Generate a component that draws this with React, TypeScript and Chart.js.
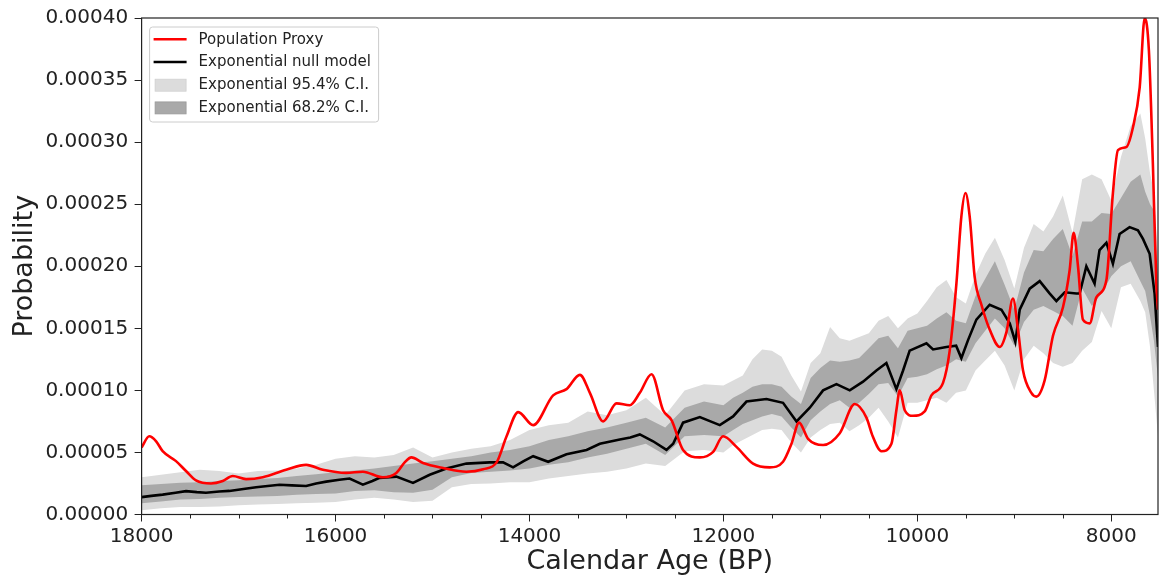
import React, { useEffect, useRef } from 'react';
import { Chart, registerables } from 'chart.js';

Chart.register(...registerables);

// ---- axis settings ----
const X_LEFT = 18000; // oldest (left edge, axis reversed)
const X_RIGHT = 7518; // youngest (right edge)
const xMajorTicks = [8000, 10000, 12000, 14000, 16000, 18000];
const X_MINOR = 500;
const Y_MAX = 0.0004;
const Y_STEP = 0.00005;
const UNIT = 1e-5; // values below are in units of 1e-5 probability

// ---- Population proxy (red) ----
const proxyYears = [
  18000, 17921, 17850, 17783, 17645, 17542, 17439, 17284, 17163, 17060, 16923, 16750,
  16510, 16303, 16131, 15890, 15718, 15511, 15373, 15287, 15218, 15098, 14891, 14651,
  14478, 14339, 14236, 14116, 13962, 13756, 13618, 13480, 13377, 13240, 13102, 12965,
  12862, 12741, 12622, 12535, 12416, 12243, 12106, 12003, 11865, 11694, 11522, 11385,
  11298, 11220, 11127, 10972, 10800, 10645, 10525, 10460, 10370, 10267, 10216, 10181,
  10130, 10045, 9924, 9855, 9735, 9666, 9597, 9546, 9504, 9460, 9408, 9339,
  9254, 9150, 9081, 9014, 8962, 8910, 8824, 8772, 8687, 8601, 8498, 8429,
  8388, 8343, 8292, 8222, 8154, 8050, 7983, 7931, 7845, 7776, 7707, 7655,
  7612, 7571, 7535, 7518,
];
const proxyValues = [
  5.4, 6.3, 5.9, 5.1, 4.3, 3.5, 2.75, 2.5, 2.7, 3.1, 2.85, 3.0,
  3.6, 4.0, 3.6, 3.35, 3.45, 3.0, 3.35, 4.2, 4.6, 4.15, 3.75, 3.45,
  3.65, 4.2, 6.3, 8.25, 7.2, 9.6, 10.1, 11.25, 9.8, 7.5, 8.95, 8.8,
  9.8, 11.3, 8.4, 7.6, 5.2, 4.6, 5.05, 6.3, 5.45, 4.1, 3.8, 4.25,
  5.7, 7.4, 6.1, 5.6, 6.55, 8.9, 7.8, 6.3, 5.1, 5.7, 8.4, 10.0,
  8.4, 7.95, 8.3, 9.6, 10.6, 13.2, 18.6, 24.0, 25.9, 24.0, 19.1, 16.9,
  14.9, 13.5, 14.7, 17.4, 14.9, 11.6, 9.8, 9.5, 10.8, 14.4, 16.7, 19.7,
  22.7, 20.0, 15.7, 15.4, 17.5, 18.9, 25.9, 29.35, 29.6, 31.2, 34.4, 40.0,
  37.4, 28.3, 18.6, 16.5,
];

// ---- Exponential null model (black) ----
const nullYears = [
  18000, 17900, 17783, 17650, 17542, 17430, 17336, 17200, 17095, 16950, 16819, 16700,
  16578, 16450, 16303, 16200, 16096, 15960, 15855, 15718, 15620, 15546, 15373, 15201,
  15029, 14857, 14651, 14410, 14272, 14169, 14060, 13962, 13807, 13618, 13411, 13274,
  13068, 12960, 12862, 12725, 12587, 12518, 12416, 12243, 12037, 11900, 11762, 11556,
  11385, 11246, 11109, 10972, 10834, 10697, 10560, 10422, 10319, 10216, 10147, 10079,
  9906, 9838, 9700, 9600, 9546, 9477, 9391, 9254, 9133, 9047, 8989, 8944,
  8841, 8738, 8634, 8566, 8480, 8360, 8326, 8257, 8172, 8121, 8050, 7983,
  7914, 7811, 7725, 7673, 7604, 7553, 7518,
];
const nullValues = [
  1.4, 1.5, 1.6, 1.75, 1.88, 1.8, 1.75, 1.85, 1.9, 2.05, 2.2, 2.3,
  2.4, 2.35, 2.3, 2.5, 2.65, 2.8, 2.9, 2.4, 2.7, 2.95, 3.05, 2.55,
  3.2, 3.7, 4.1, 4.2, 4.2, 3.8, 4.3, 4.7, 4.25, 4.85, 5.2, 5.7,
  6.05, 6.2, 6.45, 5.9, 5.2, 5.7, 7.4, 7.85, 7.2, 7.9, 9.1, 9.3,
  9.0, 7.5, 8.6, 10.0, 10.5, 10.0, 10.7, 11.6, 12.2, 10.1, 11.6, 13.2,
  13.8, 13.3, 13.5, 13.6, 12.6, 14.05, 15.7, 16.9, 16.5, 15.4, 13.9, 16.5,
  18.2, 18.8, 17.8, 17.2, 17.9, 17.8, 17.8, 20.0, 18.6, 21.3, 21.9, 20.2,
  22.6, 23.15, 22.9, 22.2, 21.0, 17.8, 13.5,
];

// ---- Confidence bands ----
const bandYears = [
  18000, 17800, 17600, 17400, 17200, 17000, 16800, 16600, 16400, 16200, 16000, 15800,
  15600, 15400, 15200, 15000, 14800, 14600, 14400, 14200, 14000, 13800, 13600, 13400,
  13200, 13000, 12800, 12600, 12400, 12200, 12000, 11900, 11800, 11700, 11600, 11500,
  11400, 11300, 11200, 11100, 11000, 10900, 10800, 10700, 10600, 10500, 10400, 10300,
  10200, 10100, 10000, 9900, 9800, 9700, 9600, 9500, 9400, 9300, 9200, 9100,
  9000, 8900, 8800, 8700, 8600, 8500, 8400, 8300, 8200, 8100, 8000, 7900,
  7800, 7700, 7650, 7600, 7560, 7518,
];
const ci95Upper = [
  3.0, 3.2, 3.4, 3.6, 3.5, 3.3, 3.5, 3.55, 3.7, 4.0, 4.5, 4.7,
  4.6, 4.8, 5.4, 4.6, 5.0, 5.3, 5.5, 6.0, 6.8, 7.2, 7.4, 8.3,
  8.0, 8.4, 9.4, 8.0, 10.0, 10.5, 10.4, 10.8, 11.2, 12.5, 13.3, 13.2,
  12.7, 11.2, 9.9, 12.2, 13.0, 15.1, 14.2, 14.0, 14.3, 14.6, 15.6, 16.0,
  15.0, 15.8, 16.2, 17.2, 18.3, 18.9, 17.5, 17.0, 19.3, 21.0, 22.3, 20.5,
  18.2, 21.5, 23.4, 22.8, 24.0, 25.7, 22.7, 27.0, 27.4, 27.0, 25.3, 28.8,
  31.3, 32.3, 30.3, 27.5, 26.0, 20.5,
];
const ci68Upper = [
  2.35, 2.45, 2.55, 2.6, 2.7, 2.75, 2.85, 2.95, 3.1, 3.25, 3.4, 3.55,
  3.7, 3.9, 4.1, 4.3, 4.5, 4.7, 5.0, 5.2, 5.5, 6.0, 6.3, 6.7,
  7.0, 7.4, 7.8, 7.0, 8.6, 9.1, 8.8, 9.4, 9.8, 10.3, 10.5, 10.5,
  10.3, 9.5, 8.9, 11.0, 11.8, 12.4, 12.3, 12.4, 12.6, 13.4, 14.2, 14.4,
  13.4, 14.8, 15.0, 15.2, 15.8, 16.3, 15.6, 15.4, 17.6, 19.0, 20.4, 18.5,
  16.5, 19.5, 21.3, 21.2, 22.2, 23.0, 20.8, 23.6, 23.6, 24.3, 24.2, 25.5,
  26.8, 27.4, 26.0, 25.0, 24.5, 19.0,
];
const ci68Lower = [
  0.9, 1.05, 1.2, 1.25, 1.35, 1.4, 1.45, 1.5, 1.6, 1.65, 1.7, 1.9,
  1.95, 1.8, 1.75, 2.0, 3.0, 3.35, 3.45, 3.55, 3.7, 4.0, 4.2, 4.6,
  4.9, 5.3, 5.7, 4.8, 6.3, 6.4, 6.3, 6.8, 7.3, 7.6, 7.9, 8.1,
  7.9, 7.0, 6.2, 7.6, 8.3, 8.9, 9.2, 8.6, 9.0, 9.7, 10.5, 10.6,
  9.5, 11.0, 11.1, 11.3, 11.7, 12.0, 12.5, 12.3, 13.8, 14.8, 15.8, 15.0,
  13.6, 15.5, 16.5, 16.8, 16.4, 16.0, 15.2, 18.2, 16.8, 17.8, 19.2, 20.0,
  20.4, 18.8, 18.0, 16.0, 14.0, 11.0,
];
const ci95Lower = [
  0.35, 0.5, 0.6, 0.6, 0.65, 0.75, 0.8, 0.85, 0.9, 0.95, 1.0, 1.2,
  1.35, 1.2, 1.0, 1.1, 2.2, 2.45, 2.5, 2.6, 2.6, 2.9, 3.1, 3.3,
  3.45, 3.7, 4.1, 3.9, 5.1, 5.2, 5.0, 5.6, 6.0, 6.4, 6.8, 6.9,
  6.8, 5.8, 5.0, 6.2, 6.8, 7.3, 7.4, 6.7, 7.2, 7.8, 8.6, 7.5,
  6.2, 9.0, 9.0, 9.2, 9.4, 9.0, 9.8, 10.0, 11.6, 12.4, 13.2, 12.0,
  10.0, 12.5, 13.6, 13.0, 12.2, 11.9, 12.2, 13.2, 13.9, 16.4, 15.0, 18.3,
  18.6, 17.2, 16.3, 13.5, 10.0, 6.3,
];

// ---- styles ----
const RED = '#ff0000';
const BLACK = '#000000';
const LIGHT = '#dcdcdc';
const DARK = '#a9a9a9';
const TEXT = '#222222';
const FONT = "'DejaVu Sans', sans-serif";

const toPoints = (xs: number[], ys: number[]) => xs.map((x, i) => ({ x, y: ys[i] * UNIT }));

const legendEntries = [
  { label: 'Population Proxy', kind: 'line', color: RED },
  { label: 'Exponential null model', kind: 'line', color: BLACK },
  { label: 'Exponential 95.4% C.I.', kind: 'patch', color: LIGHT },
  { label: 'Exponential 68.2% C.I.', kind: 'patch', color: DARK },
];

const framePlugin = {
  id: 'frame',
  afterDraw(chart: any) {
    const { ctx, chartArea: a, scales } = chart;
    ctx.save();
    // minor ticks on x
    const xs = scales.x;
    ctx.strokeStyle = TEXT;
    ctx.lineWidth = 1;
    for (let v = 8000; v <= X_LEFT; v += X_MINOR) {
      if (xMajorTicks.includes(v)) continue;
      const px = Math.round(xs.getPixelForValue(v)) + 0.5;
      ctx.beginPath();
      ctx.moveTo(px, a.bottom);
      ctx.lineTo(px, a.bottom + 4);
      ctx.stroke();
    }
    // spines
    ctx.strokeStyle = TEXT;
    ctx.lineWidth = 1.2;
    ctx.strokeRect(a.left, a.top, a.right - a.left, a.bottom - a.top);

    // legend box
    const x0 = a.left + 8;
    const y0 = a.top + 9;
    const w = 229;
    const h = 95;
    const r = 3;
    ctx.beginPath();
    ctx.moveTo(x0 + r, y0);
    ctx.lineTo(x0 + w - r, y0);
    ctx.quadraticCurveTo(x0 + w, y0, x0 + w, y0 + r);
    ctx.lineTo(x0 + w, y0 + h - r);
    ctx.quadraticCurveTo(x0 + w, y0 + h, x0 + w - r, y0 + h);
    ctx.lineTo(x0 + r, y0 + h);
    ctx.quadraticCurveTo(x0, y0 + h, x0, y0 + h - r);
    ctx.lineTo(x0, y0 + r);
    ctx.quadraticCurveTo(x0, y0, x0 + r, y0);
    ctx.closePath();
    ctx.fillStyle = 'rgba(255,255,255,0.8)';
    ctx.fill();
    ctx.strokeStyle = '#cccccc';
    ctx.lineWidth = 1;
    ctx.stroke();

    ctx.font = `15px ${FONT}`;
    ctx.textBaseline = 'middle';
    ctx.textAlign = 'left';
    legendEntries.forEach((e, i) => {
      const cy = y0 + 12.3 + i * 22.7;
      if (e.kind === 'line') {
        ctx.strokeStyle = e.color;
        ctx.lineWidth = 2.5;
        ctx.beginPath();
        ctx.moveTo(x0 + 4, cy);
        ctx.lineTo(x0 + 37, cy);
        ctx.stroke();
      } else {
        ctx.fillStyle = e.color;
        ctx.fillRect(x0 + 5.5, cy - 5.5, 31, 12);
        ctx.strokeStyle = e.color === DARK ? '#999999' : '#d0d0d0';
        ctx.lineWidth = 0.8;
        ctx.strokeRect(x0 + 5.5, cy - 5.5, 31, 12);
      }
      ctx.fillStyle = TEXT;
      ctx.fillText(e.label, x0 + 49, cy + 0.5);
    });
    ctx.restore();
  },
};

export default function App() {
  const canvasRef = useRef<HTMLCanvasElement | null>(null);

  useEffect(() => {
    document.body.style.margin = '0';
    const canvas = canvasRef.current;
    if (!canvas) return;
    Chart.defaults.font.family = FONT;

    const chart = new Chart(canvas, {
      type: 'line',
      data: {
        datasets: [
          {
            label: 'Population Proxy',
            data: toPoints(proxyYears, proxyValues),
            borderColor: RED,
            borderWidth: 2.6,
            pointRadius: 0,
            cubicInterpolationMode: 'monotone',
            fill: false,
            order: 0,
          },
          {
            label: 'Exponential null model',
            data: toPoints(nullYears, nullValues),
            borderColor: BLACK,
            borderWidth: 2.6,
            pointRadius: 0,
            tension: 0,
            fill: false,
            order: 1,
          },
          {
            label: 'Exponential 68.2% C.I. upper',
            data: toPoints(bandYears, ci68Upper),
            borderWidth: 0,
            borderColor: 'rgba(0,0,0,0)',
            backgroundColor: DARK,
            pointRadius: 0,
            fill: '+1',
            order: 2,
          },
          {
            label: 'Exponential 68.2% C.I. lower',
            data: toPoints(bandYears, ci68Lower),
            borderWidth: 0,
            borderColor: 'rgba(0,0,0,0)',
            pointRadius: 0,
            fill: false,
            order: 3,
          },
          {
            label: 'Exponential 95.4% C.I. upper',
            data: toPoints(bandYears, ci95Upper),
            borderWidth: 0,
            borderColor: 'rgba(0,0,0,0)',
            backgroundColor: LIGHT,
            pointRadius: 0,
            fill: '+1',
            order: 4,
          },
          {
            label: 'Exponential 95.4% C.I. lower',
            data: toPoints(bandYears, ci95Lower),
            borderWidth: 0,
            borderColor: 'rgba(0,0,0,0)',
            pointRadius: 0,
            fill: false,
            order: 5,
          },
        ],
      },
      options: {
        animation: false,
        responsive: false,
        devicePixelRatio: 1,
        layout: { padding: { left: 0, right: 1, top: 18, bottom: 0 } },
        plugins: {
          legend: { display: false },
          tooltip: { enabled: false },
        },
        scales: {
          x: {
            type: 'linear',
            reverse: true,
            min: X_RIGHT,
            max: X_LEFT,
            border: { display: false },
            grid: {
              drawOnChartArea: false,
              drawTicks: true,
              tickLength: 7,
              tickColor: TEXT,
              tickWidth: 1,
            },
            afterBuildTicks: (scale: any) => {
              scale.ticks = xMajorTicks.map((v) => ({ value: v }));
            },
            ticks: {
              autoSkip: false,
              maxRotation: 0,
              padding: 3,
              color: TEXT,
              font: { size: 20, family: FONT },
              callback: (v: any) => String(v),
            },
            title: {
              display: true,
              text: 'Calendar Age (BP)',
              color: TEXT,
              font: { size: 27, family: FONT },
              padding: { top: 0, bottom: 3 },
            },
            afterFit: (scale: any) => {
              scale.height = 66.5;
              scale.paddingLeft = 0;
              scale.paddingRight = 0;
            },
          },
          y: {
            type: 'linear',
            min: 0,
            max: Y_MAX,
            border: { display: false },
            grid: {
              drawOnChartArea: false,
              drawTicks: true,
              tickLength: 7,
              tickColor: TEXT,
              tickWidth: 1,
            },
            ticks: {
              stepSize: Y_STEP,
              padding: 6.5,
              color: TEXT,
              font: { size: 20, family: FONT },
              callback: (v: any) => Number(v).toFixed(5),
            },
            title: {
              display: true,
              text: 'Probability',
              color: TEXT,
              font: { size: 27, family: FONT },
              padding: { top: 8.5, bottom: 0 },
            },
            afterFit: (scale: any) => {
              scale.width = 141.6;
              scale.paddingTop = 0;
              scale.paddingBottom = 0;
            },
          },
        },
      },
      plugins: [framePlugin],
    } as any);

    return () => {
      chart.destroy();
    };
  }, []);

  return (
    <div style={{ width: 1159, height: 581, position: 'relative' }}>
      <canvas ref={canvasRef} width={1159} height={581} style={{ width: 1159, height: 581, display: 'block' }} />
    </div>
  );
}
